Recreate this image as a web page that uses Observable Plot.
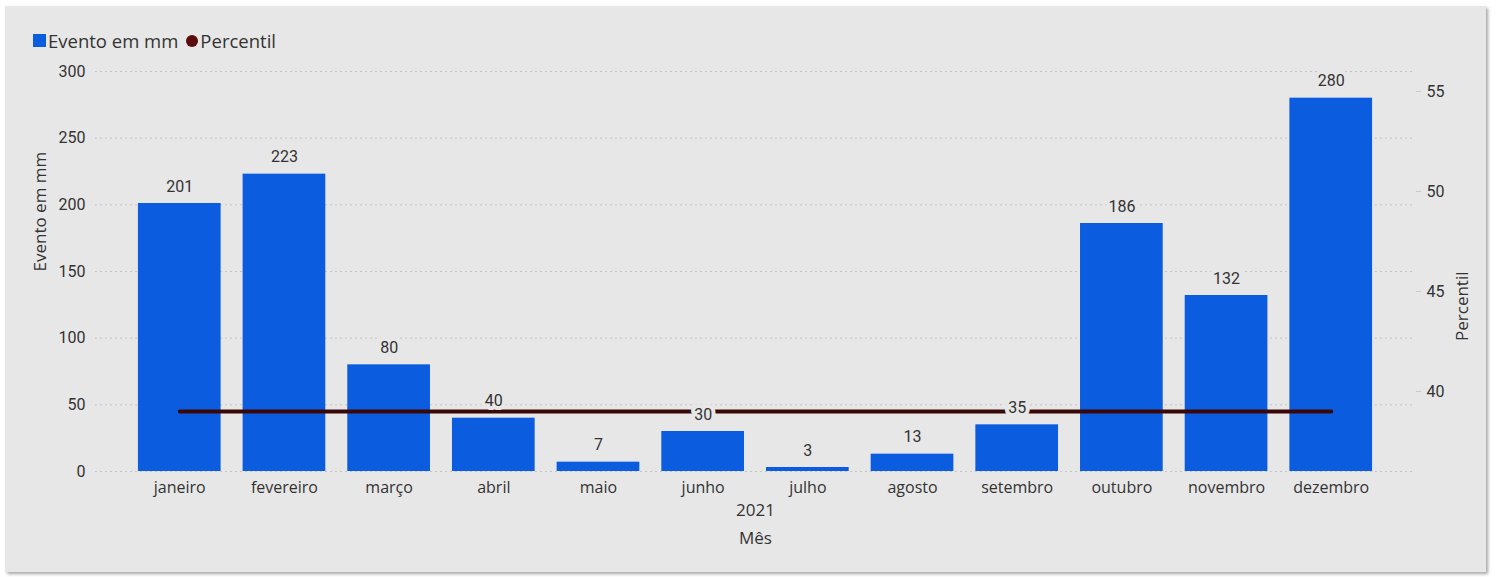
<!DOCTYPE html>
<html>
<head>
<meta charset="utf-8">
<script src="https://cdn.jsdelivr.net/npm/d3@7"></script>
<script src="https://cdn.jsdelivr.net/npm/@observablehq/plot@0.6"></script>
<style>
  html, body { margin: 0; padding: 0; background: #ffffff; }
  #page { position: relative; width: 1497px; height: 577px; overflow: hidden; }
  #panel {
    position: absolute; left: 5px; top: 6px; width: 1481px; height: 566px;
    background: #e7e7e7;
    box-shadow: 2px 2px 3px rgba(0,0,0,0.35);
  }
  #chart { position: absolute; left: 0; top: 0; }
  #legend {
    position: absolute; left: 33px; top: 28px;
    font-family: "Open Sans", "Segoe UI", sans-serif; font-size: 18.5px; color: #333;
    display: flex; align-items: center; white-space: nowrap;
  }
  .sw-bar { width: 13px; height: 13px; background: #0c5ce0; margin-right: 2px; }
  .sw-dot { width: 12px; height: 12px; border-radius: 50%; background: #5a0b0b; margin: 0 2px 0 8px; }
</style>
</head>
<body>
<div id="page">
  <div id="panel"></div>
  <div id="chart"></div>
  <div id="legend">
    <span class="sw-bar"></span><span>Evento em mm</span>
    <span class="sw-dot"></span><span>Percentil</span>
  </div>
</div>
<script>
// Monthly rainfall in 2021 and the reference percentile
const months = ["janeiro", "fevereiro", "março", "abril", "maio", "junho",
                "julho", "agosto", "setembro", "outubro", "novembro", "dezembro"];
const rainfall = [201, 223, 80, 40, 7, 30, 3, 13, 35, 186, 132, 280];
const percentile = [39, 39, 39, 39, 39, 39, 39, 39, 39, 39, 39, 39];
const leftTicks = [0, 50, 100, 150, 200, 250, 300];
const rightTicks = [40, 45, 50, 55];

// Secondary axis (Percentil) shares the vertical space with the primary one
const pctDomain = [36, 56];
const leftDomain = [0, 300];
const toLeft = d3.scaleLinear().domain(pctDomain).range(leftDomain);

const rows = months.map((m, i) => ({
  month: m,
  value: rainfall[i],
  pct: percentile[i],
  pctY: toLeft(percentile[i])
}));

const W = 1497, H = 577;
const ink = "#333333";
const bg = "#e7e7e7";
const sans = "'Open Sans', 'Segoe UI', sans-serif";

const chart = Plot.plot({
  width: W,
  height: H,
  marginLeft: 95,
  marginRight: 82,
  marginTop: 71,
  marginBottom: 106,
  style: { background: "transparent", fontFamily: "Roboto, 'Noto Sans', sans-serif", fontSize: "16px", color: ink },
  x: { domain: months, paddingInner: 0.21, paddingOuter: 0.41, round: false, label: null },
  y: { domain: leftDomain, label: null },
  marks: [
    // dotted horizontal gridlines
    Plot.ruleY(leftTicks, { stroke: "#c4c4c4", strokeDasharray: "2,3", strokeWidth: 1 }),
    // left axis
    Plot.axisY(leftTicks, {
      anchor: "left", tickSize: 0, tickPadding: 10, fontSize: 16, fill: ink, label: null
    }),
    // right axis for the percentile
    Plot.axisY(rightTicks.map(toLeft), {
      anchor: "right", tickSize: 5, tickPadding: 6, stroke: "#c8c8c8", fontSize: 16, fill: ink,
      tickFormat: v => d3.format("d")(toLeft.invert(v)), label: null
    }),
    // month labels
    Plot.axisX(months, {
      anchor: "bottom", tickSize: 0, tickPadding: 10, fontSize: 16, fill: ink,
      fontFamily: sans, label: null
    }),
    // bars
    Plot.barY(rows, { x: "month", y: "value", fill: "#0c5ce0" }),
    // percentile line
    Plot.line(rows, { x: "month", y: "pctY", stroke: "#3a0707", strokeWidth: 4 }),
    // value labels above bars, with a halo that cuts the line
    Plot.text(rows, {
      x: "month", y: "value", text: d => String(d.value), dy: -17,
      fill: ink, stroke: bg, strokeWidth: 8, fontSize: 16, lineAnchor: "middle"
    }),
    // axis titles
    Plot.text(["Evento em mm"], {
      frameAnchor: "left", dx: -55, rotate: -90, fill: ink, fontSize: 17, fontFamily: sans
    }),
    Plot.text(["Percentil"], {
      frameAnchor: "right", dx: 47, rotate: -90, fill: ink, fontSize: 17, fontFamily: sans
    }),
    Plot.text(["2021"], {
      frameAnchor: "bottom", dy: 44, fill: ink, fontSize: 17, fontFamily: sans
    }),
    Plot.text(["Mês"], {
      frameAnchor: "bottom", dy: 72, fill: ink, fontSize: 17, fontFamily: sans
    })
  ]
});

document.getElementById("chart").appendChild(chart);
</script>
</body>
</html>
